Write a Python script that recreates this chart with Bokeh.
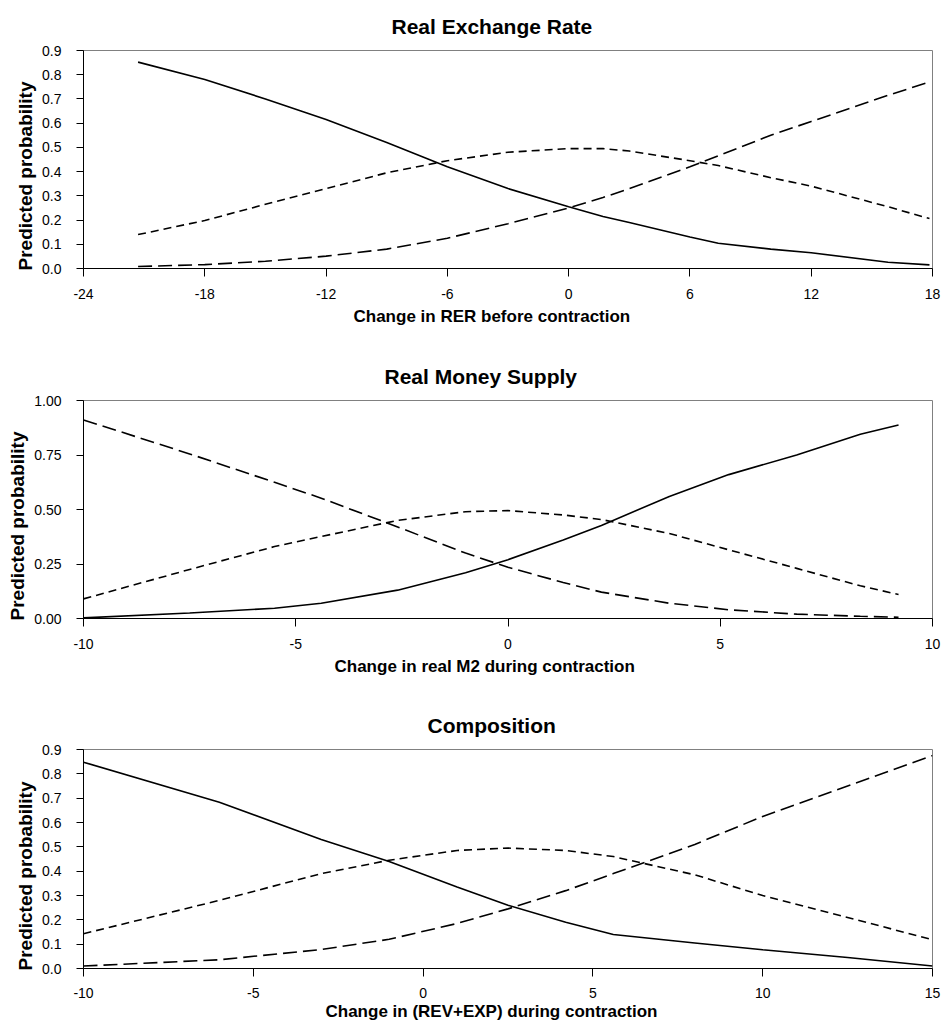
from bokeh.plotting import figure
from bokeh.models import Range1d, FixedTicker, Title, NumeralTickFormatter
from bokeh.layouts import column
from bokeh.embed import file_html
from bokeh.resources import INLINE

FONT = "Liberation Sans"

# ---- Panel 1: Real Exchange Rate ----
rer_x = [-21.3, -18, -15, -12, -9, -6, -3, 0, 1.7, 3, 6, 7.4, 10, 12, 15.8, 17.85]
rer_solid = [0.852, 0.78, 0.70, 0.615, 0.52, 0.42, 0.33, 0.255, 0.215, 0.19, 0.13, 0.104, 0.08, 0.065, 0.026, 0.015]
rer_short = [0.14, 0.198, 0.265, 0.33, 0.395, 0.445, 0.48, 0.495, 0.495, 0.485, 0.445, 0.425, 0.375, 0.34, 0.255, 0.206]
rer_long = [0.008, 0.016, 0.03, 0.051, 0.08, 0.125, 0.185, 0.25, 0.293, 0.33, 0.42, 0.465, 0.55, 0.607, 0.715, 0.77]
rer_xticks = [-24, -18, -12, -6, 0, 6, 12, 18]
rer_yticks = [0.0, 0.1, 0.2, 0.3, 0.4, 0.5, 0.6, 0.7, 0.8, 0.9]

# ---- Panel 2: Real Money Supply ----
m2_x = [-10, -7.5, -5.5, -4.4, -2.6, -1, 0, 1.3, 2.2, 3.8, 5.2, 6.8, 8.3, 9.2]
m2_solid = [0.003, 0.025, 0.047, 0.07, 0.13, 0.21, 0.27, 0.36, 0.427, 0.56, 0.66, 0.75, 0.845, 0.888]
m2_short = [0.09, 0.225, 0.33, 0.376, 0.45, 0.49, 0.495, 0.475, 0.454, 0.39, 0.315, 0.23, 0.15, 0.11]
m2_long = [0.911, 0.755, 0.625, 0.552, 0.42, 0.30, 0.235, 0.165, 0.121, 0.07, 0.04, 0.02, 0.01, 0.006]
m2_xticks = [-10, -5, 0, 5, 10]
m2_yticks = [0.0, 0.25, 0.5, 0.75, 1.0]

# ---- Panel 3: Composition ----
cmp_x = [-10, -6, -3, -1, 1, 2.5, 4.2, 5.6, 8, 10, 12.5, 15]
cmp_solid = [0.848, 0.683, 0.53, 0.44, 0.335, 0.26, 0.19, 0.14, 0.105, 0.077, 0.045, 0.01]
cmp_short = [0.143, 0.28, 0.39, 0.445, 0.485, 0.495, 0.485, 0.46, 0.385, 0.30, 0.21, 0.118]
cmp_long = [0.01, 0.036, 0.078, 0.12, 0.185, 0.245, 0.32, 0.39, 0.51, 0.625, 0.75, 0.875]
cmp_xticks = [-10, -5, 0, 5, 10, 15]
cmp_yticks = [0.0, 0.1, 0.2, 0.3, 0.4, 0.5, 0.6, 0.7, 0.8, 0.9]


def make_panel(title, xlabel, x, s1, s2, s3, xr, xticks, yr, yticks, yfmt,
               height, left, top, bottom, title_off, xlab_off, xstand, xlab_stand):
    p = figure(width=942, height=height, output_backend="svg", toolbar_location=None,
               x_range=Range1d(*xr), y_range=Range1d(*yr),
               min_border_left=left, min_border_right=10,
               min_border_top=top, min_border_bottom=bottom,
               title=title)
    p.title.align = "left"
    p.title.offset = title_off
    p.title.vertical_align = "top"
    p.title.standoff = 22
    p.title.text_font = FONT
    p.title.text_font_size = "21px"
    p.title.text_font_style = "bold"
    p.title.text_color = "black"

    p.xgrid.visible = False
    p.ygrid.visible = False
    p.outline_line_color = "#808080"
    p.outline_line_width = 1
    p.background_fill_color = "white"
    p.border_fill_color = "white"

    p.xaxis.ticker = FixedTicker(ticks=xticks)
    p.yaxis.ticker = FixedTicker(ticks=yticks)
    p.xaxis.formatter = NumeralTickFormatter(format="0")
    p.yaxis.formatter = NumeralTickFormatter(format=yfmt)
    for ax in (p.xaxis, p.yaxis):
        ax.axis_line_color = "black"
        ax.major_tick_line_color = "black"
        ax.major_tick_in = 0
        ax.minor_tick_line_color = None
        ax.major_label_text_font = FONT
        ax.major_label_text_font_size = "14px"
        ax.major_label_text_color = "black"
    p.xaxis.major_tick_out = 8
    p.yaxis.major_tick_out = 7
    p.xaxis.major_label_standoff = xstand
    p.yaxis.major_label_standoff = 15

    p.line(x, s1, line_color="black", line_width=1.6)
    p.line(x, s2, line_color="black", line_width=1.6, line_dash="8 5")
    p.line(x, s3, line_color="black", line_width=1.6, line_dash="14 6")

    xl = Title(text=xlabel, align="left", offset=xlab_off, vertical_align="top",
               standoff=xlab_stand, text_font=FONT, text_font_size="17px",
               text_font_style="bold", text_color="black")
    p.add_layout(xl, "below")
    yl = Title(text="Predicted probability", align="left", offset=-2,
               vertical_align="middle", standoff=5, text_font=FONT,
               text_font_size="19px", text_font_style="bold", text_color="black")
    p.add_layout(yl, "left")
    return p


p1 = make_panel("Real Exchange Rate", "Change in RER before contraction",
                rer_x, rer_solid, rer_short, rer_long, (-24, 18), rer_xticks,
                (0, 0.9), rer_yticks, "0.0",
                height=340, left=76, top=50, bottom=72, title_off=308, xlab_off=270,
                xstand=12, xlab_stand=10)
p2 = make_panel("Real Money Supply", "Change in real M2 during contraction",
                m2_x, m2_solid, m2_short, m2_long, (-10, 10), m2_xticks,
                (0, 1.0), m2_yticks, "0.00",
                height=350, left=83, top=60, bottom=72, title_off=301, xlab_off=251,
                xstand=12, xlab_stand=10)
p3 = make_panel("Composition", "Change in (REV+EXP) during contraction",
                cmp_x, cmp_solid, cmp_short, cmp_long, (-10, 15), cmp_xticks,
                (0, 0.9), cmp_yticks, "0.0",
                height=338, left=76, top=59, bottom=60, title_off=344, xlab_off=242,
                xstand=11, xlab_stand=3)

layout = column(p1, p2, p3, spacing=0)
open("out.html", "w").write(file_html(layout, INLINE))
